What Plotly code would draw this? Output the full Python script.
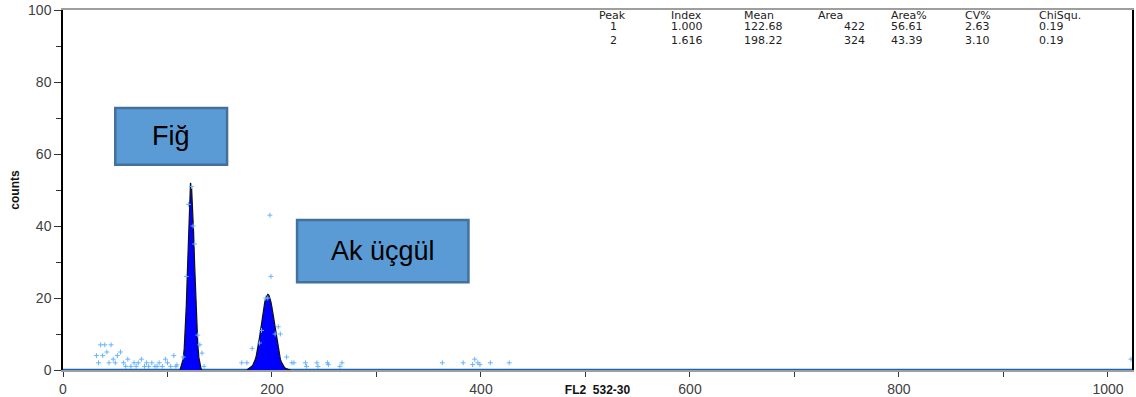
import plotly.graph_objects as go

# --- FL2 histogram: fitted peaks (channel, counts) ---
peak1_channels = list(range(112, 134))
peak1_counts = [0, 1, 1.5, 3, 6, 11, 18, 27, 37, 46, 52, 51, 46, 38, 29, 20, 12, 7, 3.5, 1.5, 0.5, 0]

peak2_channels = list(range(176, 219))
peak2_counts = [0, 0.2, 0.3, 0.5, 0.8, 1.1, 1.6, 2.1, 2.9, 4.0, 5.4, 7.0, 8.9, 10.9, 13.1, 15.2,
                17.0, 18.7, 20.0, 20.7, 21.0, 20.8, 20.1, 18.9, 17.3, 15.5, 13.4, 11.3, 9.2,
                7.3, 5.6, 4.2, 3.0, 2.2, 1.6, 1.1, 0.7, 0.5, 0.3, 0.2, 0.1, 0.05, 0]

# --- raw channel counts (non-zero events) ---
raw_x = [32, 34, 36, 38, 40, 42, 44, 46, 48, 50, 52, 55, 58, 60, 62, 65, 68, 70, 72, 75,
         78, 80, 82, 85, 88, 90, 92, 95, 98, 100, 103, 106, 108, 109,
         115, 118, 120, 123, 124.5, 126, 129, 131, 133, 135,
         171, 176, 181, 188, 190, 194, 196, 198, 199, 203, 206, 208, 214, 219,
         221, 232, 233, 243, 244, 253, 254, 265, 267,
         363, 383, 392, 394, 397, 399, 409, 427, 1022]
raw_y = [4, 2, 7, 4, 7, 5, 2, 7, 3, 2, 4, 5, 2, 1, 3, 1, 2, 1, 2, 3,
         1, 2, 1, 2, 1, 1, 2, 1, 3, 2, 1, 4, 1, 1.4,
         3.6, 26, 46, 51, 40, 35, 9.7, 7, 4.7, 1,
         2, 2, 6, 7.5, 11, 20, 20, 43, 26, 10, 12, 10, 3.6, 2,
         2, 2, 1, 2, 1, 2, 1.5, 1, 2,
         2, 2, 1.5, 3, 2, 1.5, 2, 2, 3]

channel_range = [0, 1023]

# --- peak statistics table ---
table_headers = ["Peak", "Index", "Mean", "Area", "Area%", "CV%", "ChiSqu."]
table_rows = [
    ["1", "1.000", "122.68", "422", "56.61", "2.63", "0.19"],
    ["2", "1.616", "198.22", "324", "43.39", "3.10", "0.19"],
]

# --- population labels: (text, x0, x1, y0, y1) in data units ---
labels = [
    ("Fiğ", 50, 157, 57, 72.8),
    ("Ak üçgül", 224, 388, 24.4, 41.7),
]

FONT = "Liberation Sans, Arial, sans-serif"

fig = go.Figure()

# zero-count baseline
fig.add_trace(go.Scatter(
    x=channel_range, y=[0, 0], mode="lines",
    line=dict(color="#1565C0", width=2.5), hoverinfo="skip", showlegend=False))

for cx, cy in [(peak1_channels, peak1_counts), (peak2_channels, peak2_counts)]:
    fig.add_trace(go.Scatter(
        x=cx, y=cy, mode="lines", fill="tozeroy",
        fillcolor="#0000FF", line=dict(color="#111111", width=1.2),
        showlegend=False))

fig.add_trace(go.Scatter(
    x=raw_x, y=raw_y, mode="markers",
    marker=dict(symbol="cross-thin", size=3.5, line=dict(color="#6AB4FF", width=1)),
    showlegend=False))

# label boxes
for text, x0, x1, y0, y1 in labels:
    fig.add_shape(type="rect", xref="x", yref="y", x0=x0, x1=x1, y0=y0, y1=y1,
                  fillcolor="#5B9BD5", line=dict(color="#41719C", width=2.5), layer="above")
    fig.add_annotation(x=(x0 + x1) / 2, y=(y0 + y1) / 2, xref="x", yref="y",
                       text=text, showarrow=False,
                       font=dict(family=FONT, size=27, color="#000000"))

# statistics table, placed in pixel-aligned paper coordinates
plot_left, plot_right, plot_top, plot_bottom = 63, 1132, 10, 370
col_px = [598, 670, 743, 817, 890, 964, 1038]
header_py = 8
values_py = 19


def px_to_paper(px, py):
    return ((px - plot_left) / (plot_right - plot_left),
            (plot_bottom - py) / (plot_bottom - plot_top))


TABLE_FONT = dict(family="DejaVu Sans, sans-serif", size=11, color="#222222")

for j, h in enumerate(table_headers):
    xp, yp = px_to_paper(col_px[j], header_py)
    fig.add_annotation(x=xp, y=yp, xref="paper", yref="paper", text=h,
                       showarrow=False, xanchor="left", yanchor="top",
                       borderpad=0, font=TABLE_FONT)

for j in range(len(table_headers)):
    column = "<br>".join(row[j] for row in table_rows)
    if j == 0:
        px, anchor = col_px[0] + 15, "center"
    elif j == 3:
        px, anchor = col_px[3] + 49, "right"
    else:
        px, anchor = col_px[j], "left"
    xp, yp = px_to_paper(px, values_py)
    fig.add_annotation(x=xp, y=yp, xref="paper", yref="paper", text=column,
                       showarrow=False, xanchor=anchor, yanchor="top", align=anchor,
                       borderpad=0, font=TABLE_FONT)

fig.update_layout(
    width=1136, height=397,
    margin=dict(l=plot_left, r=1136 - plot_right, t=plot_top, b=397 - plot_bottom,
                autoexpand=False),
    paper_bgcolor="white", plot_bgcolor="white",
    font=dict(family=FONT, size=13, color="#404040"),
    xaxis=dict(
        range=channel_range, showgrid=False, zeroline=False, automargin=False,
        showline=True, linecolor="#9E9E9E", linewidth=1.5, mirror=True,
        tickmode="linear", tick0=0, dtick=200, ticks="outside", ticklen=5,
        tickcolor="#333333", tickfont=dict(size=14, color="#404040"),
        minor=dict(dtick=100, ticks="outside", ticklen=5, tickcolor="#333333"),
        title=dict(text="<b>FL2  532-30</b>", font=dict(size=12, color="#111111"),
                   standoff=0),
    ),
    yaxis=dict(
        range=[0, 100], showgrid=False, zeroline=False, automargin=False,
        showline=True, linecolor="#000000", linewidth=1.5, mirror=True,
        tickmode="linear", tick0=0, dtick=20, ticks="outside", ticklen=7,
        tickcolor="#333333", tickfont=dict(size=14, color="#404040"),
        minor=dict(dtick=10, ticks="outside", ticklen=5, tickcolor="#333333"),
        title=dict(text="<b>counts</b>", font=dict(size=12, color="#111111"),
                   standoff=6),
    ),
)

fig.write_html("out.html")
